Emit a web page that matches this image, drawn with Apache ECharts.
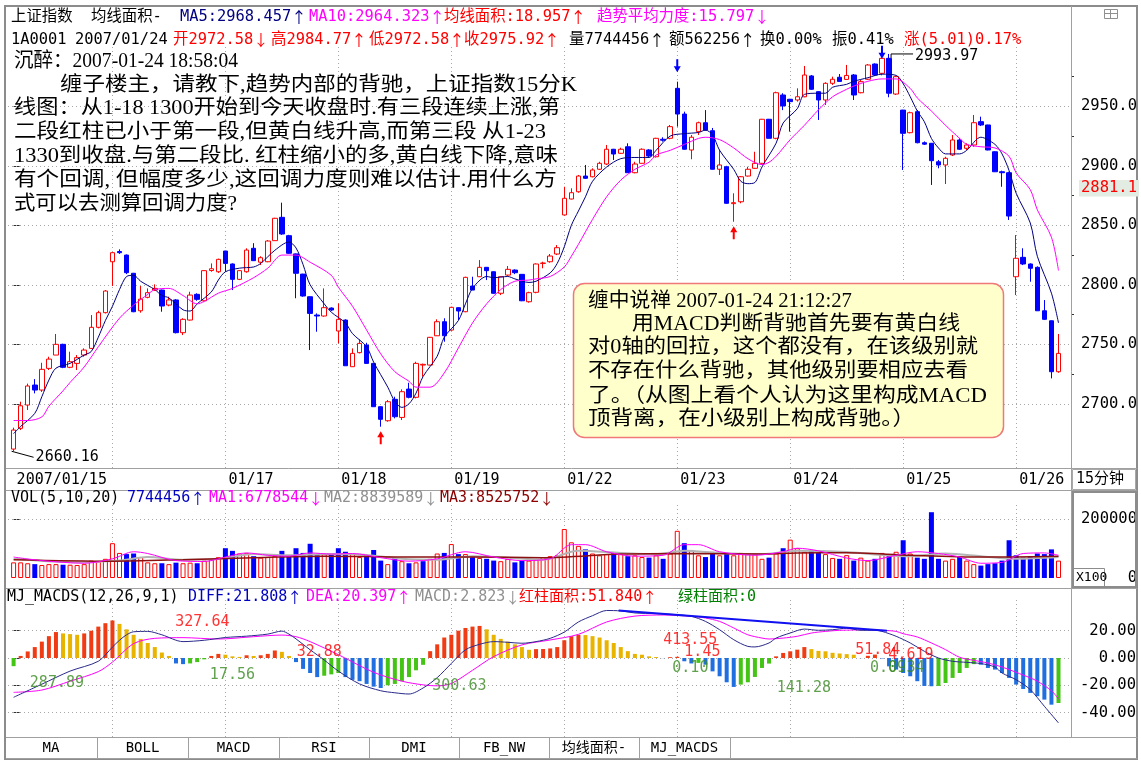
<!DOCTYPE html>
<html><head><meta charset="utf-8">
<script src="https://cdn.jsdelivr.net/npm/echarts@6.0.0/dist/echarts.min.js"></script>
<style>html,body{margin:0;padding:0;background:#fff;}#c{width:1141px;height:770px;}</style>
</head><body><div id="c"></div>
<script>
// ---------------- DATA ----------------
const axisDateIdx  = [0, 30, 46, 62, 78, 94, 110, 126, 142];
const axisDateText = ['2007/01/15','01/17','01/18','01/19','01/22','01/23','01/24','01/25','01/26'];
const gridDayIdx   = [14, 30, 46, 62, 78, 94, 110, 126, 142];

const opens = [
 2662.0,2679.4,2699.0,2715.8,2711.6,2729.8,2741.0,2750.0,2730.7,2734.0,2741.0,2746.6,2764.3,2776.6,
 2819.4,2828.0,2825.0,2809.7,2778.2,2789.5,2795.6,2795.6,2783.0,2787.3,2759.8,2770.4,2792.0,2786.6,2812.0,2811.0,
 2828.4,2817.5,2804.6,2811.0,2830.7,2819.0,2819.4,2837.1,2856.7,2841.3,2826.0,2809.0,2790.0,2774.6,2773.8,2780.5,
 2761.2,2770.4,2731.2,2743.0,2749.4,2734.0,2697.6,2685.8,2703.8,2688.6,2712.4,2705.5,2732.6,2732.6,2757.2,2769.0,
 2762.0,2780.8,2777.4,2799.0,2806.8,2814.7,2811.0,2792.9,2808.2,2812.4,2808.8,2785.8,2793.7,2818.0,2819.4,2825.9,
 2858.7,2872.1,2878.2,2891.4,2890.8,2897.1,2901.5,2913.9,2910.5,2916.0,2894.2,2902.1,2913.3,2907.6,2922.3,2923.1,
 2965.1,2943.5,2913.3,2928.7,2936.2,2929.5,2897.1,2899.2,2868.2,2869.8,2891.4,2897.9,2902.1,2939.1,2923.1,2959.5,
 2955.9,2955.3,2958.0,2975.5,2962.3,2955.3,2969.3,2974.4,2972.58,2976.3,2961.4,2972.7,2985.5,2977.7,2990.3,2960.3,
 2946.8,2927.8,2945.5,2919.4,2918.9,2903.4,2900.7,2909.1,2921.7,2914.7,2917.5,2937.1,2934.3,2911.8,2895.0,2894.2,
 2806.8,2823.1,2817.5,2814.7,2778.2,2769.8,2727.0];
const highs = [
 2680.0,2701.8,2717.0,2720.8,2734.5,2739.6,2758.7,2750.5,2743.8,2741.0,2746.6,2774.6,2778.2,2795.6,
 2827.5,2829.8,2825.5,2810.0,2799.0,2797.0,2800.4,2796.0,2790.0,2788.0,2771.9,2794.2,2792.9,2812.3,2818.0,2822.0,
 2828.6,2818.0,2812.3,2830.7,2835.0,2824.0,2837.6,2856.3,2869.0,2842.0,2826.3,2809.3,2790.3,2776.0,2797.0,2781.0,
 2784.4,2771.0,2746.6,2754.2,2751.3,2734.3,2698.0,2703.2,2706.0,2712.2,2717.7,2735.4,2733.8,2756.2,2771.0,2771.9,
 2781.6,2781.0,2806.8,2806.8,2820.8,2815.0,2811.3,2807.0,2815.8,2813.0,2809.0,2794.2,2818.0,2819.4,2825.9,2833.4,
 2882.4,2881.1,2892.3,2900.7,2897.9,2903.4,2917.5,2914.2,2915.2,2918.9,2903.4,2914.7,2914.0,2923.5,2924.0,2934.3,
 2970.7,2945.5,2925.9,2937.1,2946.8,2931.8,2913.3,2900.0,2876.9,2891.4,2899.2,2911.8,2939.4,2939.4,2962.3,2961.0,
 2956.2,2965.1,2983.9,2976.3,2962.5,2970.2,2974.9,2977.1,2984.77,2977.1,2972.1,2985.5,2986.1,2991.0,2993.97,2975.7,
 2947.0,2945.5,2946.8,2920.5,2919.2,2904.9,2907.6,2925.9,2923.1,2918.9,2942.7,2941.3,2934.5,2912.2,2895.9,2895.0,
 2841.8,2830.7,2818.0,2815.5,2787.2,2770.0,2758.7];
const lows = [
 2660.16,2678.0,2694.8,2708.8,2710.0,2728.4,2741.0,2730.0,2730.0,2728.4,2739.6,2746.0,2763.4,2776.0,
 2799.0,2826.0,2809.0,2777.0,2776.6,2788.7,2794.8,2777.4,2782.0,2759.2,2757.8,2770.0,2786.6,2786.0,2811.0,2810.0,
 2811.0,2795.6,2804.0,2810.2,2820.0,2816.6,2819.0,2837.0,2842.0,2826.0,2788.7,2790.0,2745.2,2760.6,2773.2,2778.0,
 2750.8,2732.0,2731.0,2742.4,2734.0,2697.4,2680.8,2685.0,2687.8,2686.4,2704.6,2704.6,2722.8,2732.3,2757.0,2752.2,
 2761.4,2770.4,2777.0,2795.6,2806.5,2804.0,2792.5,2791.4,2807.4,2809.0,2786.3,2785.0,2792.9,2813.9,2818.6,2825.0,
 2858.3,2871.8,2877.4,2889.0,2890.3,2896.5,2900.7,2904.9,2910.0,2894.0,2893.7,2902.0,2907.1,2907.0,2920.3,2922.3,
 2932.9,2913.6,2905.5,2925.9,2929.5,2896.8,2892.3,2868.2,2853.0,2868.5,2891.0,2897.6,2900.7,2923.0,2922.3,2946.8,
 2928.7,2953.9,2957.6,2963.7,2938.5,2951.1,2967.9,2970.7,2972.58,2955.3,2960.9,2972.1,2975.5,2976.0,2957.6,2959.5,
 2896.5,2927.3,2918.9,2917.5,2883.9,2897.9,2884.7,2908.2,2913.3,2913.3,2916.0,2933.4,2913.0,2894.8,2882.4,2854.5,
 2791.4,2816.6,2802.6,2778.0,2770.4,2721.4,2726.1];
const closes = [
 2678.0,2698.4,2715.0,2711.6,2729.0,2737.6,2750.0,2730.7,2735.4,2738.8,2745.2,2764.3,2776.6,2794.8,
 2827.0,2827.0,2810.2,2777.4,2788.0,2793.4,2797.0,2782.2,2787.3,2759.8,2771.0,2791.4,2787.8,2811.9,2813.5,2821.4,
 2818.0,2804.6,2811.9,2829.2,2820.3,2822.8,2836.8,2855.9,2842.7,2826.5,2809.7,2790.6,2776.0,2773.8,2780.8,2778.8,
 2771.0,2732.0,2742.4,2750.8,2734.0,2697.6,2687.0,2701.8,2689.2,2710.2,2705.5,2734.0,2733.2,2755.9,2769.0,2757.2,
 2781.1,2778.0,2806.3,2795.6,2814.7,2811.9,2792.9,2806.8,2813.0,2810.2,2786.6,2793.4,2817.5,2818.3,2824.2,2831.2,
 2872.7,2877.4,2891.4,2889.5,2896.5,2902.1,2913.9,2909.9,2913.9,2894.2,2901.5,2913.9,2908.2,2923.1,2921.5,2932.9,
 2943.5,2913.9,2924.0,2936.2,2930.1,2897.1,2900.7,2868.5,2869.0,2890.8,2897.1,2902.1,2939.1,2923.1,2961.4,2950.3,
 2953.9,2958.0,2976.3,2964.3,2955.3,2969.3,2972.7,2970.91,2975.92,2959.5,2970.7,2984.7,2976.3,2990.3,2961.0,2974.9,
 2927.3,2944.6,2919.4,2918.2,2904.3,2900.7,2906.3,2921.7,2913.9,2917.5,2936.2,2934.3,2913.3,2895.0,2894.2,2857.8,
 2822.3,2817.5,2813.9,2778.2,2771.0,2727.0,2742.4];

const ma5 = [[0,2675],[1,2681],[3,2692],[4,2706],[5,2720],[6,2730],[8,2734],[10,2741],[11,2744],[12,2756],[13,2770],
 [14,2782],[15,2796],[16,2807],[17,2808],[18,2803],[20,2796],[21,2791],[22,2789],[24,2779],[25,2778],[26,2784],[28,2794],
 [29,2804],[30,2811],[32,2814],[34,2815],[35,2818],[37,2829],[39,2836],[40,2831],[41,2817],[42,2800],[44,2784],[45,2777],
 [47,2768],[48,2759],[50,2748],[51,2735],[53,2714],[54,2702],[55,2697],[56,2700],[57,2709],[58,2723],[60,2740],[61,2756],
 [63,2770],[64,2784],[65,2797],[67,2807],[68,2806],[70,2807],[71,2805],[73,2802],[74,2803],[76,2810],[77,2818],[78,2832],
 [79,2850],[80,2862],[81,2874],[82,2887],[84,2899],[86,2906],[88,2907],[90,2907],[91,2913],[93,2925],[95,2927],[97,2928],
 [98,2930],[99,2926],[100,2913],[102,2897],[103,2887],[104,2885],[105,2886],[106,2899],[108,2919],[109,2936],[111,2948],
 [112,2960],[114,2961],[115,2961],[116,2966],[118,2968.457],[119,2971],[121,2974],[123,2977],[125,2976],[126,2969],
 [127,2958],[128,2946],[129,2937],[130,2923],[131,2915],[132,2910],[134,2910],[135,2913],[137,2924],[139,2918],[140,2910],
 [141,2896],[142,2877],[144,2852],[145,2824],[147,2793],[148,2768]];
const ma10 = [[0,2686],[2,2686],[4,2689],[5,2698],[7,2711],[8,2718],[10,2731],[12,2748],[15,2772],[17,2783],[19,2792],
 [20,2796],[22,2797],[24,2791],[26,2784],[27,2786],[29,2793],[31,2797],[34,2806],[36,2814],[38,2825],[40,2825],[42,2819],
 [45,2808],[46,2798],[48,2782],[50,2762],[52,2742],[54,2727],[56,2719],[57,2714],[59,2714],[61,2726],[63,2747],[65,2768],
 [67,2784],[69,2796],[71,2803],[73,2804],[74,2805],[76,2807],[78,2815],[79,2824],[80,2834],[82,2855],[84,2874],[86,2888],
 [88,2897],[90,2903],[91,2909],[93,2913],[95,2918],[97,2923],[98,2924],[100,2922],[102,2915],[104,2906],[106,2901],
 [107,2903],[108,2908],[110,2922],[112,2934],[114,2947],[116,2958],[118,2964.323],[119,2967],[121,2971],[123,2973],
 [125,2973],[127,2965],[128,2957],[130,2946],[132,2934],[134,2923],[135,2918],[137,2916],[139,2915],[141,2908],[142,2894],
 [144,2880],[145,2863],[147,2840],[148,2812]];

const volumes = [
 53000,53000,50000,47000,44000,47000,47000,45000,45000,44000,47000,59000,56000,65000,
 118000,85000,81000,83000,71000,53000,50000,50000,47000,52000,50000,52000,50000,59000,64000,71000,
 101000,92000,83000,85000,74000,69000,71000,75000,92000,77000,101000,85000,116000,77000,81000,83000,
 101000,89000,81000,71000,77000,95000,59000,47000,68000,57000,50000,53000,57000,65000,83000,85000,
 115000,81000,81000,74000,68000,65000,59000,57000,65000,53000,59000,59000,62000,71000,74000,77000,
 166000,121000,109000,97000,83000,77000,81000,85000,81000,74000,77000,71000,69000,77000,65000,83000,
 160000,118000,95000,77000,71000,83000,77000,81000,77000,85000,83000,81000,65000,69000,83000,101000,
 130000,101000,89000,92000,85000,81000,68000,65000,77445,59000,69000,59000,65000,85000,77000,89000,
 128000,83000,69000,65000,223000,65000,59000,65000,71000,59000,47000,42000,47000,50000,59000,128000,
 77000,69000,74000,83000,81000,97000,59000];
const volMa1 = [[0,71000],[4,59000],[10,50000],[14,65000],[17,89000],[19,83000],[23,59000],[27,56000],[30,71000],[33,85000],
 [36,77000],[39,74000],[42,85000],[45,81000],[48,83000],[52,69000],[56,57000],[60,65000],[64,89000],[68,71000],[72,59000],
 [76,65000],[79,113000],[81,113000],[84,89000],[88,74000],[92,77000],[95,113000],[97,113000],[100,89000],[105,77000],
 [109,89000],[111,101000],[114,92000],[118,67785],[121,59000],[125,77000],[128,89000],[131,83000],[134,71000],[137,50000],
 [140,53000],[143,83000],[146,85000],[148,77000]];
const volMa2 = [[0,65000],[9,53000],[15,59000],[19,71000],[24,62000],[29,65000],[34,81000],[39,77000],[44,81000],[49,80000],
 [55,65000],[60,62000],[65,74000],[70,69000],[75,62000],[80,92000],[86,85000],[91,81000],[95,92000],[100,85000],[106,81000],
 [111,92000],[118,88396],[122,80000],[127,74000],[132,83000],[137,74000],[142,65000],[148,71000]];
const volMa3 = [[0,62000],[14,57000],[24,62000],[34,69000],[44,74000],[55,71000],[65,71000],[75,69000],[86,81000],[95,83000],
 [106,81000],[111,85000],[118,85258],[127,77000],[137,71000],[148,74000]];

const macdHist = [
 -6,1.5,4.8,8,12,16,19,18,17.5,17,18,20,23,25.5,
 27.5,25,21,17,14,11,8,4,1.5,-4,-4.5,-4,-3,-1,1.5,3,
 2.4,1.2,0.8,2,1.5,2,3,5.5,4.5,1.5,-3,-8,-11,-14,-13,-12,
 -11,-14,-16,-17,-19,-21,-22,-20,-19,-17,-14,-9,-5,5,10,15,
 17,20,22,23,23.5,21,17,14,12,10,8,6,6.5,6.6,7,8,
 13,16,17,16.8,16,15,13,11,8,5,3,2.4,1.2,0.7,-0.1,0.6,
 0.85,-2.4,-4,-3.6,-4.9,-9.8,-13.4,-17.8,-21.2,-19.5,-17.8,-13.9,-7.3,-4.1,1.2,3.7,
 4.9,6.1,8,6.5,5.2,4.9,3.8,3.3,2.823,2.4,-0.09,1.6,2.5,-0.34,-6.1,-8.5,
 -11,-13.4,-17,-20.5,-20.7,-20.5,-18.3,-14.6,-11,-7.3,-4.5,-4.9,-7.3,-8.5,-11,-14.6,
 -19.5,-22.7,-25.6,-28,-30.5,-34.2,-33];
const diffLine = [[0,-28.8],[4,-19.2],[8,-9.6],[12,-2.4],[14,8],[15,13],[16,17],[17,19.2],[19,19.5],[21,17],[24,12],[27,13],
 [30,15],[33,16],[36,17.5],[38,19.7],[39,17.5],[40,14],[42,6],[44,-1.5],[46,-9.6],[49,-19],[52,-24],[54,-25.5],[56,-26.4],
 [58,-22],[60,-14.4],[62,-4],[64,6],[66,10],[68,12],[70,11.5],[72,10.8],[74,12],[76,14.4],[78,19],[80,26.4],[82,31],
 [84,34.8],[86,34.5],[88,33],[91,32.5],[94,31.7],[96,30.5],[98,26.8],[100,20.7],[102,13.4],[104,8.5],[105,8.1],[107,11],
 [108,14.6],[110,18.3],[112,21.2],[114,20.3],[116,20.7],[118,21.808],[120,20.3],[122,20.3],[123,19.5],[125,15.9],[127,11],
 [129,4.9],[131,0],[133,-2.4],[135,-3.2],[137,-4.1],[139,-6.6],[140,-11],[142,-15.9],[144,-23.2],[146,-35.4],[148,-47.6]];
const deaLine = [[0,-25.2],[4,-23.5],[8,-17],[12,-10],[14,-3],[17,10.5],[20,14.4],[24,14.9],[29,13.9],[34,15.6],[38,16.8],
 [40,15.6],[42,12],[46,2.4],[51,-10.5],[55,-17],[58,-19.7],[60,-20.4],[62,-18.7],[65,-9],[68,1],[72,9.6],[76,13.2],
 [80,17.3],[84,26.4],[88,30.7],[92,31.5],[96,30.5],[98,29.3],[100,26.8],[102,22],[104,17],[106,14.6],[107,13.9],[109,14.6],
 [111,15.9],[113,18.3],[115,19.5],[117,20.3],[118,20.397],[121,20.7],[123,20.3],[125,19.5],[126,17.8],[128,15.4],[130,11],
 [132,6.1],[134,0.5],[136,-1.7],[138,-3.7],[140,-6.6],[142,-10.5],[144,-14.6],[145,-17],[147,-24],[148,-30]];
const divergenceLine = [[85.7,34.8],[123.7,20.0]];

const areaLabelText = ['287.89','327.64','17.56','32.88','300.63','413.55','1.45','0.10','141.28','51.84','4.619','0.09','0.34'];
const areaLabelRed  = [false,true,false,true,false,true,true,false,false,true,true,false,false];
const areaLabelIdx  = [2.3,22.9,27.8,40.1,59.3,92.0,95.0,93.3,108.1,119.2,123.9,121.3,123.9];
const areaLabelLvl  = [-18.3,26.4,-12.5,4.4,-20.5,13.2,4.4,-7.3,-22.0,5.9,2.2,-7.3,-7.3];

const sellIdx = [94, 123];
const buyIdx  = [52, 102];
const cursorPrice = 2881.1;

const priceTicks = [2700,2750,2800,2850,2900,2950];
const priceMinor = [2725,2775,2825,2875,2925,2975];
const volTicks   = [0,200000];
const macdTicks  = [-40,-20,0,20];

// ---------------- CHART ----------------
const MONO  = '"DejaVu Sans Mono", "Noto Sans CJK SC", monospace';
const SERIF = '"Liberation Serif", "Noto Sans CJK SC", serif';
const CJK   = '"Noto Sans CJK SC", sans-serif';
const RED = '#FF0000', BLUE = '#0000FF', NAVY = '#000080', MAG = '#FF00FF';

const X_MIN = -0.793, X_MAX = 149.77;
const P_MIN = 2646.1, P_MAX = 3001.5;
const V_MIN = 0, V_MAX = 250000;
const M_MIN = -57.9, M_MAX = 43.96;

const chart = echarts.init(document.getElementById('c'), null, {renderer: 'canvas'});

const gridDots = {type: [1, 3], color: '#A8A8A8', width: 1};
function gridMark(yVals) {
  return {
    silent: true, z: 1, symbol: ['none', 'none'], animation: false,
    label: {show: false}, emphasis: {disabled: true},
    lineStyle: gridDots,
    data: yVals.map(v => ({yAxis: v})).concat(gridDayIdx.map(i => ({xAxis: i})))
  };
}
function xAxis(gi, show) {
  return {
    type: 'value', gridIndex: gi, min: X_MIN, max: X_MAX, show: true,
    axisLine: {show: false}, axisTick: {show: false}, splitLine: {show: false},
    axisLabel: show ? {
      customValues: axisDateIdx,
      formatter: v => { const k = axisDateIdx.indexOf(v); return k >= 0 ? axisDateText[k] : ''; },
      align: 'left', margin: 5, padding: [0, 0, 0, 3],
      color: '#000', fontFamily: MONO, fontSize: 15
    } : {show: false}
  };
}
function yAxis(gi, min, max, ticks, fmt, margin, extra) {
  return Object.assign({
    type: 'value', gridIndex: gi, position: 'right', min, max,
    axisLine: {show: false}, splitLine: {show: false},
    axisTick: {show: true, customValues: ticks, length: 6, lineStyle: {color: '#303030'}},
    axisLabel: {customValues: ticks, formatter: fmt, align: 'right', margin, color: '#000', fontFamily: MONO, fontSize: 15.5}
  }, extra || {});
}

const candleData = opens.map((o, i) => [i, o, closes[i], lows[i], highs[i]]);
const volData = volumes.map((v, i) => {
  const up = i === 0 ? closes[0] >= opens[0] : closes[i] >= closes[i - 1];
  return {value: [i, v], itemStyle: up ? {color: '#FFFFFF', borderColor: RED, borderWidth: 1} : {color: BLUE, borderColor: BLUE, borderWidth: 0}};
});
const macdData = macdHist.map((v, i) => {
  const p = i > 0 ? macdHist[i - 1] : v - 1;
  const c = v >= 0 ? (v >= p ? '#F03C14' : '#E8B400') : (v <= p ? '#1F6FE0' : '#44C414');
  return {value: [i, v], itemStyle: {color: c}};
});
const sellData = sellIdx.map(i => [i, Math.min(highs[i] + 13.4, 2995.4)]);
const buyData = buyIdx.map(i => [i, lows[i]]);
const labelData = areaLabelText.map((t, k) => ({
  value: [areaLabelIdx[k], areaLabelLvl[k]],
  label: {formatter: t, color: areaLabelRed[k] ? RED : '#3A8A22'}
}));

const option = {
  animation: false,
  backgroundColor: '#FFFFFF',
  textStyle: {fontFamily: MONO},
  grid: [
    {left: 8, top: 45, width: 1063, height: 423, outerBoundsMode: 'none', containLabel: false},
    {left: 8, top: 504.25, width: 1063, height: 73.75, outerBoundsMode: 'none', containLabel: false},
    {left: 8, top: 598, width: 1063, height: 139, outerBoundsMode: 'none', containLabel: false}
  ],
  xAxis: [xAxis(0, true), xAxis(1, false), xAxis(2, false)],
  yAxis: [
    yAxis(0, P_MIN, P_MAX, priceTicks, v => v.toFixed(1), 66),
    {type: 'value', gridIndex: 0, position: 'right', min: P_MIN, max: P_MAX, axisLine: {show: false}, splitLine: {show: false},
     axisLabel: {show: false}, axisTick: {show: true, customValues: priceMinor, length: 3, lineStyle: {color: '#303030'}}},
    yAxis(1, V_MIN, V_MAX, volTicks, v => String(v), 66, {axisTick: {show: true, customValues: [200000], length: 6, lineStyle: {color: '#303030'}}}),
    yAxis(2, M_MIN, M_MAX, macdTicks, v => v.toFixed(2), 65)
  ],
  series: [
    {type: 'candlestick', xAxisIndex: 0, yAxisIndex: 0, data: candleData, encode: {x: 0, y: [1, 2, 3, 4]},
     barWidth: 5, clip: false, silent: true, z: 2,
     itemStyle: {color: '#FFFFFF', color0: BLUE, borderColor: RED, borderColor0: BLUE, borderWidth: 1},
     markLine: gridMark(priceTicks)},
    {type: 'line', xAxisIndex: 0, yAxisIndex: 0, data: ma5, symbol: 'none', smooth: 0.3, silent: true, z: 3,
     lineStyle: {color: NAVY, width: 1}},
    {type: 'line', xAxisIndex: 0, yAxisIndex: 0, data: ma10, symbol: 'none', smooth: 0.3, silent: true, z: 3,
     lineStyle: {color: MAG, width: 1}},
    {type: 'scatter', xAxisIndex: 0, yAxisIndex: 0, data: sellData, silent: true, z: 4, clip: false,
     symbol: 'path://M2.5,0 L4.5,0 L4.5,7 L7,7 L3.5,13 L0,7 L2.5,7 Z', symbolSize: [7, 13],
     itemStyle: {color: BLUE, opacity: 1}},
    {type: 'scatter', xAxisIndex: 0, yAxisIndex: 0, data: buyData, silent: true, z: 4, clip: false,
     symbol: 'path://M3.5,0 L7,6 L4.5,6 L4.5,13 L2.5,13 L2.5,6 L0,6 Z', symbolSize: [7, 13], symbolOffset: [0, 11],
     itemStyle: {color: RED, opacity: 1}},

    {type: 'bar', xAxisIndex: 1, yAxisIndex: 2, data: volData, barWidth: 5, silent: true, z: 2,
     markLine: gridMark([200000])},
    {type: 'line', xAxisIndex: 1, yAxisIndex: 2, data: volMa2, symbol: 'none', smooth: 0.3, silent: true, z: 3,
     lineStyle: {color: '#B4B4B4', width: 2}},
    {type: 'line', xAxisIndex: 1, yAxisIndex: 2, data: volMa3, symbol: 'none', smooth: 0.3, silent: true, z: 3,
     lineStyle: {color: '#8B1010', width: 1.5}},
    {type: 'line', xAxisIndex: 1, yAxisIndex: 2, data: volMa1, symbol: 'none', smooth: 0.3, silent: true, z: 3,
     lineStyle: {color: MAG, width: 1}},

    {type: 'bar', xAxisIndex: 2, yAxisIndex: 3, data: macdData, barWidth: 4, silent: true, z: 2,
     markLine: gridMark(macdTicks)},
    {type: 'line', xAxisIndex: 2, yAxisIndex: 3, data: deaLine, symbol: 'none', smooth: 0.3, silent: true, z: 3,
     lineStyle: {color: MAG, width: 1}},
    {type: 'line', xAxisIndex: 2, yAxisIndex: 3, data: diffLine, symbol: 'none', smooth: 0.3, silent: true, z: 3,
     lineStyle: {color: '#2A2A8C', width: 1}},
    {type: 'line', xAxisIndex: 2, yAxisIndex: 3, data: divergenceLine, symbol: 'none', silent: true, z: 4,
     lineStyle: {color: '#1010F0', width: 2}},
    {type: 'scatter', xAxisIndex: 2, yAxisIndex: 3, data: labelData, symbolSize: 0, silent: true, z: 5, clip: false,
     label: {show: true, position: 'right', distance: 0, fontFamily: MONO, fontSize: 15, verticalAlign: 'middle'}}
  ]
};
chart.setOption(option);

// ---------------- DECORATION (frames, headers, notes) ----------------
const G = [];
const mctx = document.createElement('canvas').getContext('2d');
function ln(x1, y1, x2, y2, color, w) {
  G.push({type: 'line', silent: true, z: 100, shape: {x1, y1, x2, y2}, style: {stroke: color || '#A0A0A0', lineWidth: w || 1}});
}
function poly(points, color) {
  G.push({type: 'polyline', silent: true, z: 100, shape: {points}, style: {stroke: color || '#000', lineWidth: 1, fill: null}});
}
function box(x, y, w, h, stroke, fill, lw, r) {
  G.push({type: 'rect', silent: true, z: 100, shape: {x, y, width: w, height: h, r: r || 0},
          style: {stroke: stroke, fill: fill || 'none', lineWidth: lw || 1}});
}
function tx(x, y, str, color, size, family, align, extra) {
  size = size || 15;
  const font = size + 'px ' + (family || MONO);
  const hasArrow = /[↑↓]/.test(str);
  const style = Object.assign({
    text: hasArrow ? str.replace(/([↑↓])/g, '{ar|$1}') : str,
    font, fill: color || '#000', align: align || 'left', textAlign: align || 'left',
    verticalAlign: 'middle', textVerticalAlign: 'middle'}, extra || {});
  if (hasArrow) {
    style.rich = {ar: {font: size + 'px ' + CJK, fontFamily: CJK, fontSize: size, fill: color || '#000', verticalAlign: 'middle'}};
  }
  G.push({type: 'text', silent: true, z: 101, x, y, style});
}
function fitTx(x, y, str, right, size) {
  const font = size + 'px ' + SERIF;
  mctx.font = font;
  const w = mctx.measureText(str).width;
  G.push({type: 'text', silent: true, z: 102, x, y, scaleX: (right - x) / w, scaleY: 1,
    style: {text: str, font, fill: '#000', align: 'left', textAlign: 'left', verticalAlign: 'middle', textVerticalAlign: 'middle'}});
}

// frames
box(5, 6, 1132, 753, '#8C8C8C', 'none', 2);
ln(1071.5, 6, 1071.5, 737, '#A0A0A0');
[468.5, 490.5, 588.5, 737.5, 758.5].forEach(y => ln(6, y, 1137, y, '#A0A0A0'));
box(1072.5, 469.5, 63, 20, '#A8A8A8');
box(1073, 492, 63, 95, '#8C8C8C', 'none', 2);
box(1073.5, 568.5, 31, 18, '#8C8C8C');
box(1104.5, 9.5, 13, 9, '#909090');
ln(1110.5, 9.5, 1110.5, 18.5, '#909090');
ln(1104.5, 13.5, 1117.5, 13.5, '#909090');
[97, 188, 279, 369, 459, 549, 639, 730].forEach(x => ln(x + 0.5, 737.5, x + 0.5, 758.5, '#A0A0A0'));

// right side texts
tx(1076, 479.5, '15分钟', '#000', 15);
tx(1076, 578, 'X100', '#000', 13);

// header line 1
tx(11, 17, '上证指数', '#000', 15.4);
tx(91, 17, '均线面积-', '#000', 15.4);
tx(180, 17, 'MA5:2968.457↑', NAVY, 15.4);
tx(309, 17, 'MA10:2964.323↑', MAG, 15.4);
tx(444, 17, '均线面积:18.957↑', RED, 15.4);
tx(597, 17, '趋势平均力度:15.797↓', MAG, 15.4);
// header line 2
tx(11, 40, '1A0001', '#000', 15.4);
tx(75, 40, '2007/01/24', '#000', 15.4);
tx(173, 40, '开2972.58↓', RED, 15.4);
tx(271, 40, '高2984.77↑', RED, 15.4);
tx(369, 40, '低2972.58↑', RED, 15.4);
tx(464, 40, '收2975.92↑', RED, 15.4);
tx(569, 40, '量7744456↑', '#000', 15.4);
tx(669, 40, '额562256↑', '#000', 15.4);
tx(760, 40, '换0.00%', '#000', 15.4);
tx(832, 40, '振0.41%', '#000', 15.4);
tx(904, 40, '涨(5.01)0.17%', RED, 15.4);
// volume header
tx(11, 498, 'VOL(5,10,20)', '#000', 15);
tx(127, 498, '7744456↑', '#0000C0', 15);
tx(209, 498, 'MA1:6778544↓', MAG, 15);
tx(324, 498, 'MA2:8839589↓', '#909090', 15);
tx(440, 498, 'MA3:8525752↓', '#8B0000', 15);
// macd header
tx(7, 597, 'MJ_MACDS(12,26,9,1)', '#000', 15);
tx(188, 597, 'DIFF:21.808↑', '#0000C0', 15);
tx(306, 597, 'DEA:20.397↑', MAG, 15);
tx(415, 597, 'MACD:2.823↓', '#909090', 15);
tx(519, 597, '红柱面积:51.840↑', RED, 15);
tx(678, 597, '绿柱面积:0', '#008000', 15);
// tabs
[['MA', 51], ['BOLL', 142.5], ['MACD', 233.5], ['RSI', 324], ['DMI', 414], ['FB_NW', 504], ['均线面积-', 594], ['MJ_MACDS', 684.5]]
  .forEach(([t, cx]) => tx(cx, 748, t, '#000', 14, MONO, 'center'));

// forum note (left)
fitTx(14, 62, '沉醉：2007-01-24 18:58:04', 238, 20);
fitTx(60, 86, '缠子楼主，请教下,趋势内部的背驰，上证指数15分K', 577, 20);
fitTx(14, 109, '线图：从1-18 1300开始到今天收盘时.有三段连续上涨,第', 560, 20);
fitTx(14, 133, '二段红柱已小于第一段,但黄白线升高,而第三段 从1-23', 546, 20);
fitTx(14, 157, '1330到收盘.与第二段比. 红柱缩小的多,黄白线下降,意味', 558, 20);
fitTx(14, 181, '有个回调, 但幅度多少,这回调力度则难以估计.用什么方', 557, 20);
fitTx(14, 205, '式可以去测算回调力度?', 237, 20);

// reply box (right)
box(573.5, 283.5, 430, 154, '#F07878', '#FFFFCC', 1.5, 11);
fitTx(588, 302, '缠中说禅 2007-01-24 21:12:27', 852, 20);
fitTx(632, 325, '用MACD判断背驰首先要有黄白线', 960, 20);
fitTx(588, 348, '对0轴的回拉，这个都没有，在该级别就', 978, 20);
fitTx(588, 372, '不存在什么背驰，其他级别要相应去看', 968, 20);
fitTx(588, 397, '了。（从图上看个人认为这里构成MACD', 987, 20);
fitTx(588, 420, '顶背离，在小级别上构成背驰。）', 915, 20);

// extreme price labels via the chart's own scales
const px = (i, v) => chart.convertToPixel({xAxisIndex: 0, yAxisIndex: 0}, [i, v]);
const minI = lows.indexOf(Math.min(...lows));
const maxI = highs.indexOf(Math.max(...highs));
const pl = px(minI, lows[minI]);
poly([[pl[0] - 2, pl[1]], [pl[0] + 20, pl[1] + 6]], '#000');
tx(pl[0] + 22, pl[1] + 6, lows[minI].toFixed(2), '#000', 15);
const ph = px(maxI, highs[maxI]);
poly([[ph[0] + 2, ph[1] + 4], [ph[0] + 2, ph[1]], [ph[0] + 24, ph[1]]], '#000');
tx(ph[0] + 26, ph[1] + 2, highs[maxI].toFixed(2), '#000', 15);
const pc = px(0, cursorPrice);
tx(1079, pc[1], cursorPrice.toFixed(1), RED, 15.5, MONO, 'left', {backgroundColor: '#E2ECE2', padding: [1, 2, 0, 2]});

chart.setOption({graphic: {elements: G}});
</script></body></html>
